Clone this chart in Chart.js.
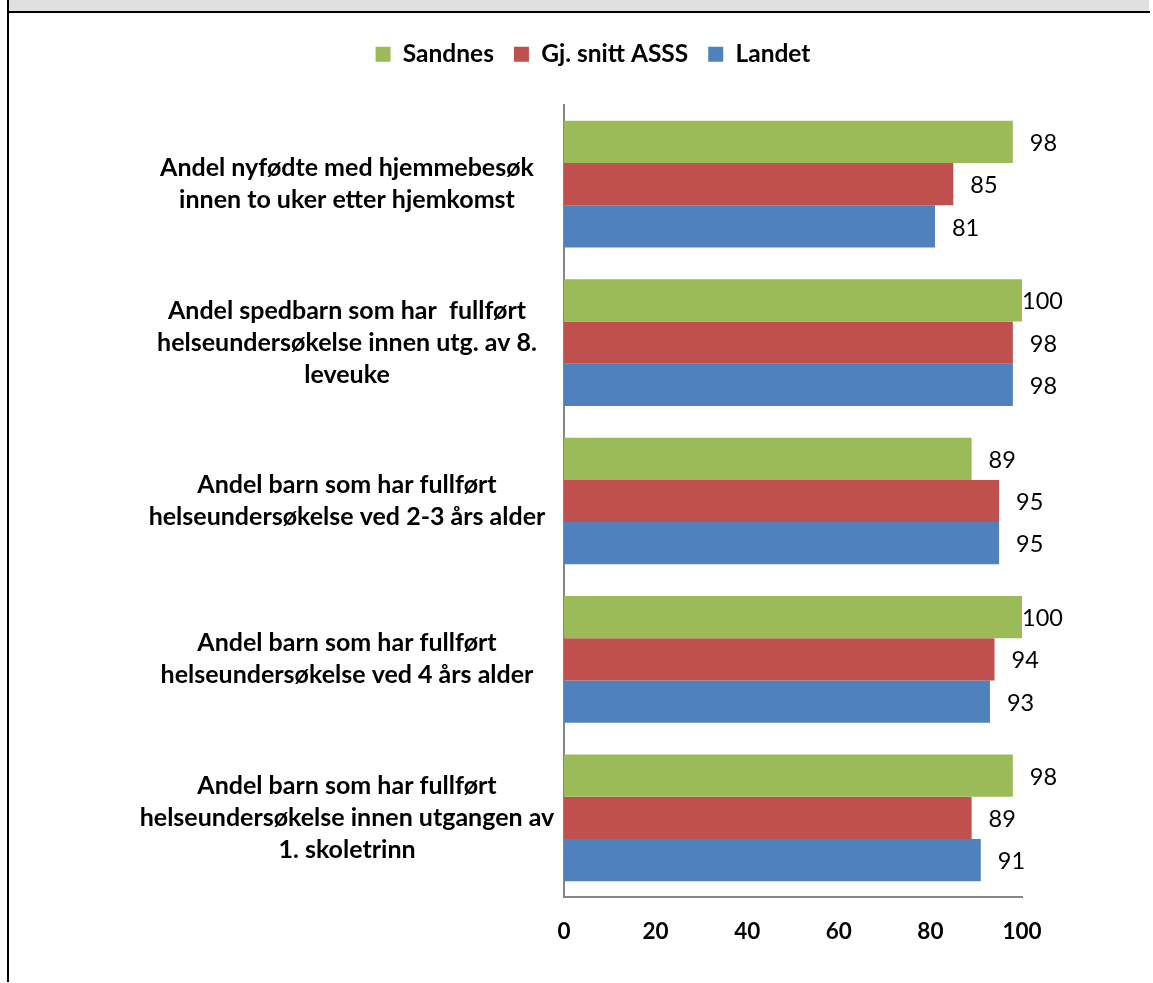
<!DOCTYPE html>
<html lang="no">
<head>
<meta charset="utf-8">
<title>Helsestasjon – Sandnes, ASSS og landet</title>
<script src="https://cdn.jsdelivr.net/npm/chart.js@4.4.1/dist/chart.umd.min.js"></script>
<style>
  html, body { margin: 0; padding: 0; background: #ffffff; }
  body { width: 1153px; height: 983px; position: relative; overflow: hidden; }
  .band { position: absolute; left: 9px; top: 0; width: 1140px; height: 11px; background: #e0e0e0; }
  .rule { position: absolute; left: 7px; top: 11px; width: 1143px; height: 2px; background: #000; }
  .side { position: absolute; left: 7px; top: 0; width: 2px; height: 982px; background: #000; }
  #wrap { position: absolute; left: 0; top: 0; width: 1153px; height: 983px; }
</style>
</head>
<body>
<div class="band"></div>
<div class="rule"></div>
<div class="side"></div>
<div id="wrap"><canvas id="chart" width="1153" height="983"></canvas></div>
<script>
// Indikatorer (kategorier), én linje per element
const categories = [
  ["Andel nyfødte med hjemmebesøk", "innen to uker etter hjemkomst"],
  ["Andel spedbarn som har  fullført", "helseundersøkelse innen utg. av 8.", "leveuke"],
  ["Andel barn som har fullført", "helseundersøkelse ved 2-3 års alder"],
  ["Andel barn som har fullført", "helseundersøkelse ved 4 års alder"],
  ["Andel barn som har fullført", "helseundersøkelse innen utgangen av", "1. skoletrinn"]
];

const seriesNames = ["Sandnes", "Gj. snitt ASSS", "Landet"];
const sandnes = [98, 100, 89, 100, 98];
const asss    = [85, 98, 95, 94, 89];
const landet  = [81, 98, 95, 93, 91];

const xTicks = [0, 20, 40, 60, 80, 100];

const FONT = "Lato, 'Open Sans', sans-serif";
const catFont = { family: FONT, size: 25, weight: "bold", lineHeight: "32px" };
const tickFont = { family: FONT, size: 22.5, weight: "bold" };
const legendFont = { family: FONT, size: 24.5, weight: "bold" };
const valueFontSize = 23.5;

// Verdietiketter til høyre for hver stolpe
const valueLabels = {
  id: "valueLabels",
  afterDatasetsDraw(chart) {
    const ctx = chart.ctx;
    const limit = chart.chartArea.right + 41;
    ctx.save();
    ctx.font = "normal " + valueFontSize + "px " + FONT;
    ctx.fillStyle = "#000000";
    ctx.textAlign = "left";
    ctx.textBaseline = "middle";
    chart.data.datasets.forEach((ds, di) => {
      const meta = chart.getDatasetMeta(di);
      meta.data.forEach((bar, i) => {
        const txt = String(ds.data[i]);
        const w = ctx.measureText(txt).width;
        const x = Math.min(bar.x + 17, limit - w);
        ctx.fillText(txt, x, bar.y + 1.5);
      });
    });
    ctx.restore();
  }
};

// Forklaringen: fast høyde, og midtstilt over et smalere felt
const legendBox = {
  id: "legendBox",
  beforeInit(chart) {
    const origFit = chart.legend.fit;
    chart.legend.fit = function () {
      origFit.call(this);
      this.height = 83;
    };
  },
  afterLayout(chart) {
    chart.legend.left = 164;
  }
};

function widestLabel() {
  const c = document.createElement("canvas").getContext("2d");
  c.font = "bold " + catFont.size + "px " + FONT;
  let w = 0;
  categories.forEach(lines => lines.forEach(l => { w = Math.max(w, c.measureText(l).width); }));
  return w;
}

function build() {
  const labelCenter = 347;   // midtpunkt for kategoriteksten
  const axisRight = 564;
  const padLeft = 60;
  const widest = widestLabel();
  const yPad = axisRight - labelCenter - widest / 2;

  new Chart(document.getElementById("chart"), {
    type: "bar",
    data: {
      labels: categories,
      datasets: [
        { label: seriesNames[0], data: sandnes, backgroundColor: "#9BBB59" },
        { label: seriesNames[1], data: asss, backgroundColor: "#C0504D" },
        { label: seriesNames[2], data: landet, backgroundColor: "#4F81BD" }
      ]
    },
    options: {
      indexAxis: "y",
      responsive: false,
      animation: false,
      devicePixelRatio: 1,
      layout: { padding: { top: 22, left: padLeft, right: 131, bottom: 0 } },
      datasets: { bar: { categoryPercentage: 0.8, barPercentage: 1.0, borderWidth: 0 } },
      plugins: {
        legend: {
          position: "top",
          labels: {
            boxWidth: 15,
            boxHeight: 15,
            padding: 20,
            color: "#000000",
            font: legendFont
          }
        },
        tooltip: { enabled: false }
      },
      scales: {
        x: {
          min: 0,
          max: 100,
          afterBuildTicks(scale) { scale.ticks = xTicks.map(v => ({ value: v })); },
          grid: { display: false, drawTicks: false },
          border: { display: true, color: "#868686", width: 2 },
          ticks: { color: "#000000", font: tickFont, padding: 21 },
          afterFit(scale) { scale.height = 86; }
        },
        y: {
          grid: { display: false, drawTicks: false },
          border: { display: true, color: "#868686", width: 2 },
          ticks: {
            color: "#000000",
            font: catFont,
            crossAlign: "center",
            padding: yPad,
            autoSkip: false
          },
          afterFit(scale) { scale.width = axisRight - padLeft; }
        }
      }
    },
    plugins: [valueLabels, legendBox]
  });
}

if (document.fonts && document.fonts.load) {
  Promise.all([
    document.fonts.load("bold 25px Lato"),
    document.fonts.load("normal 23px Lato")
  ]).then(build, build);
} else {
  build();
}
</script>
</body>
</html>
